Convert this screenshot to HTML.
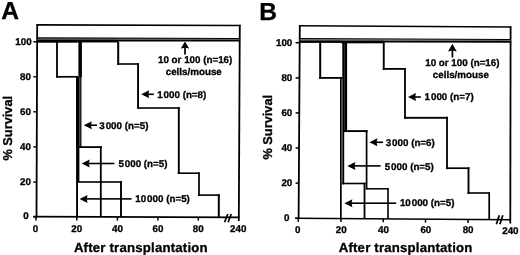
<!DOCTYPE html>
<html><head><meta charset="utf-8"><style>
html,body{margin:0;padding:0;background:#fff;}
svg{display:block;will-change:transform;}
text{font-family:"Liberation Sans",sans-serif;font-weight:bold;fill:#000;stroke:#000;stroke-width:0.3px;text-rendering:geometricPrecision;}
</style></head><body>
<svg width="520" height="255" viewBox="0 0 520 255">
<rect width="520" height="255" fill="#fff"/>
<text x="1.30" y="18.70" font-size="24.6" text-anchor="start" stroke="#000" stroke-width="0.5">A</text>
<line x1="36.50" y1="24.90" x2="240.50" y2="25.50" stroke="#000" stroke-width="1.6" stroke-linecap="butt"/>
<line x1="37.20" y1="24.20" x2="36.50" y2="217.50" stroke="#000" stroke-width="1.8" stroke-linecap="butt"/>
<line x1="239.80" y1="24.70" x2="238.80" y2="221.00" stroke="#000" stroke-width="1.8" stroke-linecap="butt"/>
<line x1="33.30" y1="216.60" x2="239.50" y2="217.30" stroke="#000" stroke-width="1.7" stroke-linecap="butt"/>
<polygon points="36.50,37.30 239.50,38.00 239.50,39.00 36.50,38.85" fill="#000"/>
<rect x="36.50" y="38.85" width="81.50" height="1.05" fill="#444"/>
<rect x="36.50" y="39.90" width="40.50" height="2.80" fill="#000"/>
<rect x="77.00" y="39.90" width="41.00" height="2.55" fill="#000"/>
<rect x="118.00" y="38.85" width="121.50" height="0.85" fill="#555"/>
<rect x="118.00" y="39.70" width="121.50" height="1.80" fill="#000"/>
<line x1="33.40" y1="41.80" x2="36.60" y2="41.80" stroke="#000" stroke-width="1.5" stroke-linecap="butt"/>
<line x1="33.40" y1="76.80" x2="36.60" y2="76.80" stroke="#000" stroke-width="1.5" stroke-linecap="butt"/>
<line x1="33.40" y1="111.80" x2="36.60" y2="111.80" stroke="#000" stroke-width="1.5" stroke-linecap="butt"/>
<line x1="33.40" y1="146.90" x2="36.60" y2="146.90" stroke="#000" stroke-width="1.5" stroke-linecap="butt"/>
<line x1="33.40" y1="182.10" x2="36.60" y2="182.10" stroke="#000" stroke-width="1.5" stroke-linecap="butt"/>
<line x1="33.40" y1="216.80" x2="36.60" y2="216.80" stroke="#000" stroke-width="1.5" stroke-linecap="butt"/>
<line x1="36.00" y1="217.00" x2="36.00" y2="220.60" stroke="#000" stroke-width="1.5" stroke-linecap="butt"/>
<line x1="76.80" y1="217.00" x2="76.80" y2="220.60" stroke="#000" stroke-width="1.5" stroke-linecap="butt"/>
<line x1="117.40" y1="217.00" x2="117.40" y2="220.60" stroke="#000" stroke-width="1.5" stroke-linecap="butt"/>
<line x1="157.90" y1="217.00" x2="157.90" y2="220.60" stroke="#000" stroke-width="1.5" stroke-linecap="butt"/>
<line x1="198.30" y1="217.00" x2="198.30" y2="220.60" stroke="#000" stroke-width="1.5" stroke-linecap="butt"/>
<text x="31.60" y="44.70" font-size="9.8" text-anchor="end" >100</text>
<text x="31.00" y="79.70" font-size="9.8" text-anchor="end" >80</text>
<text x="31.00" y="114.70" font-size="9.8" text-anchor="end" >60</text>
<text x="31.00" y="149.80" font-size="9.8" text-anchor="end" >40</text>
<text x="31.00" y="185.00" font-size="9.8" text-anchor="end" >20</text>
<text x="28.60" y="219.10" font-size="9.8" text-anchor="end" >0</text>
<text x="35.60" y="231.70" font-size="9.8" text-anchor="middle" >0</text>
<text x="76.80" y="231.70" font-size="9.8" text-anchor="middle" >20</text>
<text x="117.40" y="231.70" font-size="9.8" text-anchor="middle" >40</text>
<text x="157.90" y="231.70" font-size="9.8" text-anchor="middle" >60</text>
<text x="198.30" y="231.70" font-size="9.8" text-anchor="middle" >80</text>
<text x="238.30" y="231.70" font-size="9.8" text-anchor="middle" >240</text>
<line x1="224.60" y1="222.30" x2="227.80" y2="214.00" stroke="#000" stroke-width="1.7" stroke-linecap="butt"/>
<line x1="228.10" y1="222.30" x2="231.30" y2="214.00" stroke="#000" stroke-width="1.7" stroke-linecap="butt"/>
<rect x="56.10" y="41.70" width="1.80" height="35.90" fill="#000"/>
<rect x="56.10" y="75.95" width="21.90" height="1.70" fill="#000"/>
<rect x="78.40" y="42.00" width="3.50" height="35.40" fill="#000"/>
<rect x="76.00" y="77.00" width="3.60" height="70.00" fill="#000"/>
<rect x="79.60" y="77.00" width="1.90" height="70.00" fill="#1e1e1e"/>
<rect x="76.10" y="147.00" width="3.30" height="35.00" fill="#000"/>
<rect x="76.10" y="182.00" width="1.90" height="35.00" fill="#000"/>
<rect x="79.00" y="146.20" width="22.90" height="1.80" fill="#000"/>
<rect x="99.90" y="146.30" width="1.80" height="70.70" fill="#000"/>
<rect x="76.00" y="181.20" width="46.00" height="1.60" fill="#000"/>
<rect x="120.05" y="181.20" width="1.90" height="35.80" fill="#000"/>
<rect x="117.20" y="41.70" width="2.00" height="23.10" fill="#000"/>
<rect x="117.20" y="63.20" width="21.80" height="1.60" fill="#000"/>
<rect x="137.10" y="63.20" width="1.90" height="45.60" fill="#000"/>
<rect x="137.10" y="107.20" width="42.70" height="1.60" fill="#000"/>
<rect x="177.85" y="107.20" width="1.90" height="66.80" fill="#000"/>
<rect x="177.80" y="172.40" width="22.00" height="1.60" fill="#000"/>
<rect x="198.15" y="172.40" width="1.70" height="23.50" fill="#000"/>
<rect x="198.20" y="194.30" width="21.60" height="1.60" fill="#000"/>
<rect x="217.80" y="194.30" width="2.00" height="22.70" fill="#000"/>
<rect x="184.15" y="47.20" width="1.70" height="7.40" fill="#000"/>
<path d="M185.00,41.60 L189.20,48.60 L185.00,47.70 L180.80,48.60 Z" fill="#000"/>
<rect x="147.80" y="93.50" width="6.00" height="1.60" fill="#000"/>
<path d="M141.20,94.30 L149.20,90.30 L148.30,94.30 L149.20,98.30 Z" fill="#000"/>
<rect x="90.40" y="124.40" width="6.60" height="1.60" fill="#000"/>
<path d="M83.80,125.20 L91.80,121.20 L90.90,125.20 L91.80,129.20 Z" fill="#000"/>
<rect x="88.30" y="162.70" width="26.10" height="1.60" fill="#000"/>
<path d="M81.70,163.50 L89.70,159.50 L88.80,163.50 L89.70,167.50 Z" fill="#000"/>
<rect x="86.20" y="198.10" width="45.40" height="1.60" fill="#000"/>
<path d="M79.60,198.90 L87.60,194.90 L86.70,198.90 L87.60,202.90 Z" fill="#000"/>
<text x="158.00" y="63.30" font-size="9.8" text-anchor="start" >10 or 100 (n=16)</text>
<text x="165.70" y="74.60" font-size="9.8" text-anchor="start" >cells/mouse</text>
<text x="157.20" y="97.70" font-size="9.8" text-anchor="start" >1<tspan dx="0.9">000</tspan> (n=8)</text>
<text x="99.30" y="128.70" font-size="9.8" text-anchor="start" >3<tspan dx="0.9">000</tspan> (n=5)</text>
<text x="118.40" y="166.90" font-size="9.8" text-anchor="start" >5<tspan dx="0.9">000</tspan> (n=5)</text>
<text x="135.30" y="202.30" font-size="9.8" text-anchor="start" >10<tspan dx="0.9">000</tspan> (n=5)</text>
<text x="73.90" y="251.60" font-size="13.2" text-anchor="start" letter-spacing="0.2">After transplantation</text>
<text x="11.60" y="160.60" font-size="12.8" text-anchor="start" transform="rotate(-90 11.6 160.6)">% Survival</text>
<text x="259.20" y="20.00" font-size="24.6" text-anchor="start" stroke="#000" stroke-width="0.5">B</text>
<line x1="299.00" y1="25.70" x2="511.50" y2="27.00" stroke="#000" stroke-width="1.6" stroke-linecap="butt"/>
<line x1="299.80" y1="25.00" x2="298.60" y2="219.00" stroke="#000" stroke-width="1.8" stroke-linecap="butt"/>
<line x1="510.60" y1="26.30" x2="510.30" y2="223.50" stroke="#000" stroke-width="1.8" stroke-linecap="butt"/>
<line x1="295.00" y1="218.30" x2="511.00" y2="219.70" stroke="#000" stroke-width="1.6" stroke-linecap="butt"/>
<polygon points="299.50,38.00 510.50,38.90 510.50,39.90 299.50,39.40" fill="#000"/>
<polygon points="299.50,39.40 510.50,39.90 510.50,40.90 299.50,40.40" fill="#666"/>
<rect x="299.50" y="40.40" width="41.50" height="2.50" fill="#000"/>
<rect x="341.00" y="40.55" width="43.00" height="2.75" fill="#000"/>
<polygon points="384.00,40.65 510.50,40.90 510.50,42.70 384.00,42.50" fill="#000"/>
<line x1="295.60" y1="42.70" x2="299.00" y2="42.70" stroke="#000" stroke-width="1.5" stroke-linecap="butt"/>
<line x1="295.60" y1="77.90" x2="299.00" y2="77.90" stroke="#000" stroke-width="1.5" stroke-linecap="butt"/>
<line x1="295.60" y1="112.90" x2="299.00" y2="112.90" stroke="#000" stroke-width="1.5" stroke-linecap="butt"/>
<line x1="295.60" y1="148.00" x2="299.00" y2="148.00" stroke="#000" stroke-width="1.5" stroke-linecap="butt"/>
<line x1="295.60" y1="183.10" x2="299.00" y2="183.10" stroke="#000" stroke-width="1.5" stroke-linecap="butt"/>
<line x1="295.60" y1="218.30" x2="299.00" y2="218.30" stroke="#000" stroke-width="1.5" stroke-linecap="butt"/>
<line x1="298.30" y1="218.32" x2="298.30" y2="221.82" stroke="#000" stroke-width="1.5" stroke-linecap="butt"/>
<line x1="341.00" y1="218.60" x2="341.00" y2="222.10" stroke="#000" stroke-width="1.5" stroke-linecap="butt"/>
<line x1="383.20" y1="218.87" x2="383.20" y2="222.37" stroke="#000" stroke-width="1.5" stroke-linecap="butt"/>
<line x1="425.50" y1="219.15" x2="425.50" y2="222.65" stroke="#000" stroke-width="1.5" stroke-linecap="butt"/>
<line x1="468.10" y1="219.42" x2="468.10" y2="222.92" stroke="#000" stroke-width="1.5" stroke-linecap="butt"/>
<text x="292.30" y="45.70" font-size="9.8" text-anchor="end" >100</text>
<text x="292.30" y="80.90" font-size="9.8" text-anchor="end" >80</text>
<text x="292.30" y="115.90" font-size="9.8" text-anchor="end" >60</text>
<text x="292.30" y="151.00" font-size="9.8" text-anchor="end" >40</text>
<text x="292.30" y="186.10" font-size="9.8" text-anchor="end" >20</text>
<text x="289.40" y="220.60" font-size="9.8" text-anchor="end" >0</text>
<text x="297.80" y="232.50" font-size="9.8" text-anchor="middle" >0</text>
<text x="341.20" y="232.72" font-size="9.8" text-anchor="middle" >20</text>
<text x="383.50" y="232.93" font-size="9.8" text-anchor="middle" >40</text>
<text x="425.85" y="233.14" font-size="9.8" text-anchor="middle" >60</text>
<text x="468.10" y="233.35" font-size="9.8" text-anchor="middle" >80</text>
<text x="510.40" y="233.56" font-size="9.8" text-anchor="middle" >240</text>
<line x1="496.40" y1="224.30" x2="499.30" y2="215.30" stroke="#000" stroke-width="1.7" stroke-linecap="butt"/>
<line x1="499.90" y1="224.30" x2="502.80" y2="215.30" stroke="#000" stroke-width="1.7" stroke-linecap="butt"/>
<rect x="319.20" y="42.00" width="2.00" height="36.80" fill="#000"/>
<rect x="319.20" y="77.00" width="23.50" height="1.80" fill="#000"/>
<rect x="340.00" y="77.50" width="1.70" height="141.10" fill="#000"/>
<rect x="342.30" y="42.50" width="1.90" height="141.80" fill="#000"/>
<rect x="344.20" y="42.50" width="2.90" height="89.00" fill="#000"/>
<rect x="343.00" y="130.15" width="24.60" height="1.90" fill="#000"/>
<rect x="365.75" y="130.20" width="1.70" height="59.20" fill="#000"/>
<rect x="365.80" y="188.05" width="23.00" height="1.50" fill="#000"/>
<rect x="387.20" y="188.20" width="1.60" height="30.40" fill="#000"/>
<rect x="342.00" y="182.70" width="23.50" height="1.60" fill="#000"/>
<rect x="363.60" y="182.70" width="1.80" height="35.90" fill="#000"/>
<rect x="382.80" y="42.00" width="1.90" height="27.80" fill="#000"/>
<rect x="382.80" y="68.00" width="22.80" height="1.80" fill="#000"/>
<rect x="404.10" y="68.00" width="1.80" height="50.80" fill="#000"/>
<rect x="404.00" y="116.85" width="43.90" height="1.90" fill="#000"/>
<rect x="446.10" y="116.80" width="1.80" height="52.30" fill="#000"/>
<rect x="446.00" y="167.35" width="23.50" height="1.70" fill="#000"/>
<rect x="467.55" y="167.40" width="1.90" height="26.40" fill="#000"/>
<rect x="467.50" y="192.20" width="22.50" height="1.60" fill="#000"/>
<rect x="488.35" y="192.20" width="1.70" height="26.80" fill="#000"/>
<rect x="451.55" y="50.00" width="1.70" height="7.50" fill="#000"/>
<path d="M452.40,43.80 L456.80,51.40 L452.40,50.50 L448.00,51.40 Z" fill="#000"/>
<rect x="414.60" y="96.20" width="6.30" height="1.60" fill="#000"/>
<path d="M408.00,97.00 L416.00,93.00 L415.10,97.00 L416.00,101.00 Z" fill="#000"/>
<rect x="376.00" y="141.50" width="7.10" height="1.60" fill="#000"/>
<path d="M369.40,142.30 L377.40,138.30 L376.50,142.30 L377.40,146.30 Z" fill="#000"/>
<rect x="354.00" y="165.10" width="26.60" height="1.60" fill="#000"/>
<path d="M347.40,165.90 L355.40,161.90 L354.50,165.90 L355.40,169.90 Z" fill="#000"/>
<rect x="351.00" y="202.40" width="45.20" height="1.60" fill="#000"/>
<path d="M344.40,203.20 L352.40,199.20 L351.50,203.20 L352.40,207.20 Z" fill="#000"/>
<text x="425.20" y="66.20" font-size="9.8" text-anchor="start" >10 or 100 (n=16)</text>
<text x="432.80" y="77.70" font-size="9.8" text-anchor="start" >cells/mouse</text>
<text x="424.60" y="100.30" font-size="9.8" text-anchor="start" >1<tspan dx="0.9">000</tspan> (n=7)</text>
<text x="385.70" y="145.60" font-size="9.8" text-anchor="start" >3<tspan dx="0.9">000</tspan> (n=6)</text>
<text x="384.70" y="169.70" font-size="9.8" text-anchor="start" >5<tspan dx="0.9">000</tspan> (n=5)</text>
<text x="399.90" y="206.20" font-size="9.8" text-anchor="start" >10<tspan dx="0.9">000</tspan> (n=5)</text>
<text x="338.70" y="251.70" font-size="13.2" text-anchor="start" letter-spacing="0.2">After transplantation</text>
<text x="271.70" y="159.60" font-size="12.8" text-anchor="start" transform="rotate(-90 271.7 159.6)">% Survival</text>
</svg>
</body></html>
